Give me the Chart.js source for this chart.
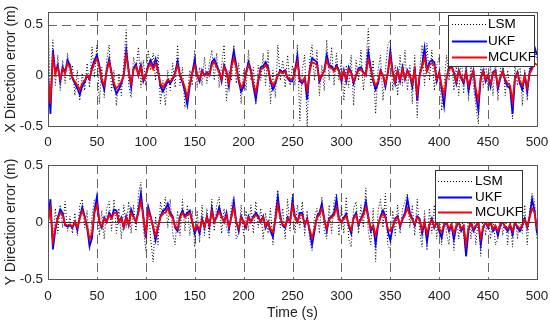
<!DOCTYPE html>
<html>
<head>
<meta charset="utf-8">
<script src="https://cdn.jsdelivr.net/npm/chart.js@4.4.1/dist/chart.umd.min.js"></script>
<style>
  html, body { margin: 0; padding: 0; background: #fff; }
  #wrap { position: relative; width: 550px; height: 324px; }
  canvas { position: absolute; left: 0; }
  #top { top: 0; }
  #bottom { top: 150px; }
</style>
</head>
<body>
<div id="wrap">
  <canvas id="top" width="550" height="150"></canvas>
  <canvas id="bottom" width="550" height="174"></canvas>
</div>
<script>
// sample spacing of the series below (s)
const timeStep = 2.5;

// X direction error (m)
const xLsm = [
  0.62, -0.3, 0.35, -0.1, 0.2, -0.15, 0.15, -0.08, 0.22, -0.05, 0.1, -0.2, 0.05, -0.25, 0.02, -0.15, 0.12, -0.12, 0.28, -0.02,
  0.3, -0.28, 0.08, -0.22, 0.15, 0.3, -0.15, 0.05, -0.3, 0.02, -0.2, 0.12, 0.45, -0.1, -0.22, 0.18, 0.05, 0.28, -0.12, 0.15,
  -0.1, 0.25, 0.05, 0.22, -0.05, 0.2, -0.28, -0.05, -0.3, 0.05, -0.15, 0.12, -0.12, 0.3, -0.1, 0.08, -0.32, -0.2, 0.05, -0.1,
  0.25, -0.12, 0.08, -0.1, 0.18, -0.08, 0.12, 0.25, -0.05, 0.22, -0.12, 0.1, 0.3, -0.25, 0.05, -0.05, 0.3, -0.08, 0.12, -0.28,
  0.05, -0.15, 0.25, -0.05, 0.08, -0.28, 0.1, -0.05, 0.22, -0.1, 0.25, -0.28, 0.05, -0.22, 0.3, -0.05, 0.15, -0.12, 0.2, -0.1,
  0.1, -0.1, 0.3, -0.45, 0.05, 0.2, -0.5, 0.15, 0.3, -0.05, 0.25, -0.2, 0.1, -0.15, 0.35, -0.05, 0.28, -0.1, 0.22, -0.05,
  0.15, -0.25, 0.1, -0.12, 0.2, -0.3, 0.15, -0.05, 0.25, -0.15, 0.1, 0.46, -0.1, 0.15, -0.38, 0.05, 0.2, -0.25, 0.05, 0.3,
  0.35, -0.15, 0.1, -0.2, 0.2, -0.1, 0.25, -0.15, 0.1, -0.28, 0.2, -0.42, 0.05, 0.3, -0.1, 0.32, -0.05, 0.25, -0.15, 0.1,
  0.18, -0.35, -0.1, 0.2, -0.05, 0.25, -0.15, 0.1, -0.2, 0.2, -0.18, 0.15, -0.25, 0.1, -0.1, -0.3, -0.48, 0.1, -0.12, 0.15,
  -0.15, 0.1, -0.2, 0.15, -0.25, 0.05, 0.2, -0.2, 0.05, -0.15, -0.43, 0.1, -0.1, 0.15, -0.3, 0.05, -0.25, 0.1, 0.2, 0.25, 0.15
];
const xUkf = [
  0.0, -0.38, 0.25, 0.03, 0.1, -0.06, 0.08, 0.03, 0.15, 0.1, -0.03, -0.08, -0.13, -0.19, -0.11, -0.07, 0.0, -0.04, 0.08, 0.15,
  0.2, 0.1, -0.06, -0.14, 0.05, 0.16, 0.03, -0.11, -0.18, -0.14, -0.08, 0.0, 0.25, 0.05, -0.12, 0.07, 0.11, 0.0, 0.1, -0.06,
  0.0, 0.1, 0.15, 0.08, 0.16, 0.05, -0.11, -0.16, -0.11, -0.06, -0.08, -0.04, 0.03, 0.14, 0.0, -0.07, -0.16, -0.29, -0.1, 0.03,
  0.15, 0.0, -0.06, 0.05, 0.0, 0.03, 0.0, 0.13, 0.16, 0.1, 0.04, -0.06, 0.1, 0.04, -0.11, 0.1, 0.24, 0.1, -0.06, -0.16,
  -0.11, 0.03, 0.13, 0.05, -0.11, -0.24, -0.06, 0.08, 0.09, 0.13, 0.08, -0.06, -0.14, -0.08, 0.0, 0.05, 0.03, 0.05, -0.03, -0.06,
  -0.06, 0.05, 0.19, -0.06, -0.08, -0.03, -0.24, 0.05, 0.17, 0.15, 0.13, -0.06, 0.0, 0.05, 0.2, 0.1, 0.09, 0.05, 0.1, 0.05,
  -0.06, 0.05, -0.06, 0.08, 0.03, -0.08, 0.0, 0.07, 0.08, 0.03, 0.0, 0.23, 0.08, -0.06, -0.14, -0.08, 0.05, 0.0, -0.11, 0.03,
  0.24, 0.03, -0.08, 0.05, -0.06, 0.08, -0.04, 0.05, 0.0, -0.11, 0.08, -0.25, 0.0, 0.1, 0.27, 0.05, 0.13, 0.15, 0.13, -0.06,
  0.03, -0.13, -0.3, -0.03, 0.08, 0.1, 0.03, -0.08, 0.05, -0.03, -0.08, 0.04, -0.15, -0.03, 0.05, -0.19, -0.34, -0.03, 0.05, -0.06,
  0.0, -0.11, 0.03, 0.05, -0.13, -0.03, 0.05, -0.06, -0.11, -0.13, -0.38, -0.03, 0.03, -0.08, -0.14, 0.0, -0.16, 0.03, 0.1, 0.28, 0.2
];
const xMcukf = [
  0.0, -0.28, 0.18, 0.02, 0.08, -0.04, 0.06, 0.02, 0.12, 0.08, -0.02, -0.06, -0.1, -0.14, -0.08, -0.05, 0.0, -0.03, 0.06, 0.12,
  0.16, 0.08, -0.04, -0.1, 0.04, 0.13, 0.02, -0.08, -0.13, -0.1, -0.06, 0.0, 0.2, 0.04, -0.08, 0.06, 0.09, 0.0, 0.08, -0.04,
  0.0, 0.08, 0.12, 0.06, 0.12, 0.04, -0.08, -0.12, -0.08, -0.04, -0.06, -0.03, 0.02, 0.1, 0.0, -0.05, -0.12, -0.22, -0.08, 0.02,
  0.1, 0.0, -0.04, 0.04, 0.0, 0.02, 0.0, 0.1, 0.13, 0.08, 0.03, -0.04, 0.08, 0.03, -0.08, 0.08, 0.17, 0.08, -0.04, -0.12,
  -0.08, 0.02, 0.1, 0.04, -0.08, -0.17, -0.04, 0.06, 0.07, 0.1, 0.06, -0.04, -0.1, -0.06, 0.0, 0.04, 0.02, 0.04, -0.02, -0.04,
  -0.04, 0.04, 0.13, -0.04, -0.06, -0.02, -0.15, 0.04, 0.13, 0.12, 0.1, -0.04, 0.0, 0.04, 0.15, 0.08, 0.07, 0.04, 0.08, 0.04,
  -0.04, 0.04, -0.04, 0.06, 0.02, -0.06, 0.0, 0.05, 0.06, 0.02, 0.0, 0.16, 0.06, -0.04, -0.1, -0.06, 0.04, 0.0, -0.08, 0.02,
  0.18, 0.02, -0.06, 0.04, -0.04, 0.06, -0.03, 0.04, 0.0, -0.08, 0.06, -0.18, 0.0, 0.08, 0.18, 0.04, 0.1, 0.12, 0.1, -0.04,
  0.02, -0.1, -0.2, -0.02, 0.06, 0.08, 0.02, -0.06, 0.04, -0.02, -0.06, 0.03, -0.1, -0.02, 0.04, -0.14, -0.25, -0.02, 0.04, -0.04,
  0.0, -0.08, 0.02, 0.04, -0.1, -0.02, 0.04, -0.04, -0.08, -0.1, -0.26, -0.02, 0.02, -0.06, -0.1, 0.0, -0.12, 0.02, 0.06, 0.12, 0.1
];

// Y direction error (m)
const yLsm = [
  0.1, 0.18, -0.2, 0.12, -0.1, 0.15, -0.05, 0.18, -0.08, 0.05, -0.1, 0.08, -0.12, 0.15, 0.2, -0.05, 0.1, -0.25, 0.05, 0.2,
  0.2, -0.12, 0.1, -0.15, 0.12, 0.18, -0.08, 0.2, -0.1, 0.12, -0.15, 0.15, -0.05, 0.18, -0.1, 0.15, -0.08, 0.25, 0.35, -0.05,
  -0.25, 0.15, -0.15, -0.35, 0.05, -0.2, 0.18, 0.05, 0.22, -0.05, 0.2, -0.1, -0.2, 0.1, -0.12, 0.2, -0.08, 0.15, -0.12, 0.1,
  -0.22, 0.1, -0.18, 0.15, -0.12, 0.12, -0.15, 0.2, -0.08, 0.15, 0.22, -0.1, 0.12, -0.05, -0.12, 0.15, 0.22, -0.15, -0.1, 0.15,
  -0.12, 0.1, -0.08, 0.15, -0.1, 0.18, -0.05, 0.12, -0.15, 0.08, -0.1, 0.12, -0.2, 0.1, 0.28, -0.05, 0.12, -0.15, 0.2, -0.08,
  0.25, -0.1, 0.15, -0.05, 0.18, -0.12, 0.1, -0.15, -0.25, 0.05, 0.12, -0.1, 0.22, -0.08, -0.15, 0.15, -0.1, 0.18, 0.25, -0.12,
  0.15, -0.1, 0.22, -0.15, -0.22, 0.12, 0.18, -0.1, 0.15, -0.05, 0.3, -0.08, -0.2, 0.12, -0.35, 0.1, 0.2, -0.05, 0.25, -0.2,
  -0.25, 0.1, -0.12, 0.15, -0.1, 0.12, 0.18, 0.25, -0.05, 0.15, -0.12, 0.2, -0.08, -0.22, 0.1, -0.25, 0.12, -0.1, 0.15, -0.15,
  0.1, -0.2, 0.12, -0.1, -0.2, 0.1, -0.25, 0.05, -0.15, 0.1, -0.12, -0.3, 0.08, -0.15, 0.1, -0.2, 0.05, -0.3, 0.1, -0.12,
  0.1, -0.15, 0.05, -0.2, -0.15, 0.08, -0.12, 0.1, -0.2, 0.05, -0.22, 0.1, -0.15, 0.05, -0.1, 0.15, -0.2, 0.1, 0.25, 0.18, -0.15
];
const yUkf = [
  0.0, 0.2, -0.24, -0.07, 0.04, 0.11, 0.08, -0.03, -0.04, -0.03, -0.05, 0.0, -0.07, 0.04, 0.13, 0.05, -0.05, -0.21, -0.14, 0.1,
  0.22, 0.0, -0.05, 0.04, 0.0, 0.08, 0.04, 0.11, 0.1, 0.0, 0.04, -0.05, 0.05, -0.03, 0.11, 0.05, 0.0, 0.1, 0.25, 0.05,
  -0.14, 0.13, 0.05, -0.05, -0.16, -0.05, 0.05, 0.1, 0.11, 0.16, 0.08, 0.05, -0.05, -0.08, 0.05, 0.1, 0.05, 0.08, 0.1, 0.0,
  -0.1, -0.04, -0.1, 0.03, -0.05, 0.05, -0.04, 0.12, 0.0, 0.05, 0.13, 0.05, 0.0, 0.08, -0.06, 0.05, 0.18, 0.0, -0.08, 0.05,
  0.0, -0.05, 0.05, 0.0, 0.05, 0.08, 0.05, 0.0, 0.05, -0.05, 0.0, -0.08, -0.13, 0.03, 0.22, 0.05, -0.03, -0.05, 0.04, 0.0,
  0.19, 0.05, 0.0, 0.08, 0.08, -0.03, 0.03, -0.08, -0.2, -0.08, 0.05, 0.08, 0.16, 0.03, -0.08, 0.03, 0.05, 0.08, 0.2, 0.03,
  0.0, 0.04, 0.07, -0.03, -0.1, 0.04, 0.08, -0.03, 0.03, 0.08, 0.18, 0.05, -0.08, -0.04, -0.19, -0.03, 0.05, 0.1, 0.05, -0.08,
  -0.16, -0.05, 0.03, 0.05, -0.04, 0.03, 0.08, 0.2, 0.08, 0.03, -0.03, 0.05, 0.03, -0.1, 0.0, -0.17, -0.03, 0.03, -0.05, 0.0,
  -0.08, -0.14, -0.03, 0.0, -0.08, -0.03, -0.15, -0.04, 0.0, -0.08, -0.04, -0.3, -0.07, 0.0, -0.08, -0.04, 0.0, -0.2, -0.05, 0.0,
  -0.05, 0.0, -0.08, -0.04, -0.12, -0.03, 0.0, -0.05, -0.08, -0.03, -0.11, 0.0, -0.05, -0.08, -0.03, 0.03, -0.05, 0.05, 0.2, 0.1, -0.1
];
const yMcukf = [
  0.0, 0.12, -0.17, -0.05, 0.03, 0.08, 0.06, -0.02, -0.03, -0.02, -0.04, 0.0, -0.05, 0.03, 0.1, 0.04, -0.04, -0.15, -0.1, 0.08,
  0.15, 0.0, -0.04, 0.03, 0.0, 0.06, 0.03, 0.08, 0.08, 0.0, 0.03, -0.04, 0.04, -0.02, 0.08, 0.04, 0.0, 0.08, 0.18, 0.04,
  -0.1, 0.1, 0.04, -0.04, -0.12, -0.04, 0.04, 0.08, 0.08, 0.12, 0.06, 0.04, -0.04, -0.06, 0.04, 0.08, 0.04, 0.06, 0.08, 0.0,
  -0.07, -0.03, -0.07, 0.02, -0.04, 0.04, -0.03, 0.09, 0.0, 0.04, 0.09, 0.04, 0.0, 0.06, -0.04, 0.04, 0.13, 0.0, -0.06, 0.04,
  0.0, -0.04, 0.04, 0.0, 0.04, 0.06, 0.04, 0.0, 0.04, -0.04, 0.0, -0.06, -0.09, 0.02, 0.15, 0.04, -0.02, -0.04, 0.03, 0.0,
  0.14, 0.04, 0.0, 0.06, 0.06, -0.02, 0.02, -0.06, -0.14, -0.06, 0.04, 0.06, 0.12, 0.02, -0.06, 0.02, 0.04, 0.06, 0.13, 0.02,
  0.0, 0.03, 0.05, -0.02, -0.07, 0.03, 0.06, -0.02, 0.02, 0.06, 0.13, 0.04, -0.06, -0.03, -0.12, -0.02, 0.04, 0.07, 0.04, -0.06,
  -0.08, -0.04, 0.02, 0.04, -0.03, 0.02, 0.06, 0.12, 0.06, 0.02, -0.02, 0.04, 0.02, -0.07, 0.0, -0.1, -0.02, 0.02, -0.04, 0.0,
  -0.06, -0.09, -0.02, 0.0, -0.06, -0.02, -0.1, -0.03, 0.0, -0.06, -0.03, -0.2, -0.05, 0.0, -0.06, -0.03, 0.0, -0.14, -0.04, 0.0,
  -0.04, 0.0, -0.06, -0.03, -0.08, -0.02, 0.0, -0.04, -0.06, -0.02, -0.08, 0.0, -0.04, -0.06, -0.02, 0.02, -0.04, 0.04, 0.12, 0.08, -0.06
];

const timeTicks = [0, 50, 100, 150, 200, 250, 300, 350, 400, 450, 500];
const errTicks = [-0.5, 0, 0.5];
const seriesNames = ["LSM", "UKF", "MCUKF"];

[xLsm, xUkf, xMcukf, yLsm, yUkf, yMcukf].forEach((arr, i) => {
  if (arr.length !== 201) throw new Error("series " + i + " has " + arr.length + " values");
});

const times = xMcukf.map((_, i) => i * timeStep);
const toPoints = (vals) => vals.map((v, i) => ({ x: times[i], y: v }));

Chart.defaults.font.family = "'Liberation Sans', Arial, sans-serif";
Chart.defaults.font.size = 13.5;
Chart.defaults.color = "#222";

// dashed guides + zero line under the data, box frame over it
const guideLines = {
  id: "guideLines",
  beforeDatasetsDraw(chart, args, opts) {
    const { ctx, chartArea: a, scales: { x, y } } = chart;
    ctx.save();
    ctx.lineWidth = 1;
    ctx.strokeStyle = "#666";
    ctx.setLineDash([9, 5]);
    timeTicks.slice(1, -1).forEach((t) => {
      const px = Math.round(x.getPixelForValue(t)) + 0.5;
      ctx.beginPath();
      ctx.moveTo(px, a.top);
      ctx.lineTo(px, a.bottom);
      ctx.stroke();
    });
    (opts.dashedY || []).forEach((v) => {
      const py = Math.round(y.getPixelForValue(v)) + 0.5;
      ctx.beginPath();
      ctx.moveTo(a.left, py);
      ctx.lineTo(a.right, py);
      ctx.stroke();
    });
    ctx.setLineDash([]);
    ctx.strokeStyle = "#444";
    const z = Math.round(y.getPixelForValue(0)) + 0.5;
    ctx.beginPath();
    ctx.moveTo(a.left, z);
    ctx.lineTo(a.right, z);
    ctx.stroke();
    ctx.restore();
  },
  afterDatasetsDraw(chart) {
    const { ctx, chartArea: a } = chart;
    ctx.save();
    ctx.strokeStyle = "#555";
    ctx.lineWidth = 1;
    ctx.strokeRect(Math.round(a.left) + 0.5, Math.round(a.top) + 0.5,
      Math.round(a.right - a.left), Math.round(a.bottom - a.top));
    ctx.restore();
  }
};

// MATLAB-style boxed legend inside the axes
const boxLegend = {
  id: "boxLegend",
  afterDraw(chart, args, o) {
    const { ctx } = chart;
    ctx.save();
    ctx.fillStyle = "#fff";
    ctx.fillRect(o.x, o.y, o.w, o.h);
    ctx.strokeStyle = "#333";
    ctx.lineWidth = 1;
    ctx.strokeRect(o.x + 0.5, o.y + 0.5, o.w, o.h);
    ctx.font = "13.5px 'Liberation Sans', Arial, sans-serif";
    ctx.textBaseline = "middle";
    chart.data.datasets.forEach((ds, i) => {
      const ly = Math.round(o.y + o.row0 + i * o.rowGap) + 0.5;
      ctx.setLineDash(ds.borderDash || []);
      ctx.strokeStyle = ds.borderColor;
      ctx.lineWidth = ds.legendWidth;
      ctx.beginPath();
      ctx.moveTo(o.x + o.lineX0, ly);
      ctx.lineTo(o.x + o.lineX1, ly);
      ctx.stroke();
      ctx.setLineDash([]);
      ctx.fillStyle = "#000";
      ctx.fillText(ds.label, o.x + o.textX, ly);
    });
    ctx.restore();
  }
};

function makeChart(id, lsm, ukf, mcukf, yMax, yTitle, cfg) {
  return new Chart(document.getElementById(id), {
    type: "line",
    data: {
      datasets: [
        { label: seriesNames[0], data: toPoints(lsm), borderColor: "#000", borderWidth: 1,
          borderDash: [1, 2], legendWidth: 1, order: 2 },
        { label: seriesNames[1], data: toPoints(ukf), borderColor: "#0000ff", borderWidth: 1.8,
          legendWidth: 2, order: 1 },
        { label: seriesNames[2], data: toPoints(mcukf), borderColor: "#ff0000", borderWidth: 1.7,
          legendWidth: 2, order: 0 }
      ]
    },
    options: {
      responsive: false,
      animation: false,
      events: [],
      devicePixelRatio: 1,
      elements: { point: { radius: 0 }, line: { tension: 0 } },
      layout: { padding: { left: 0, top: cfg.padTop, right: 13, bottom: 0 } },
      scales: {
        x: {
          type: "linear",
          min: 0,
          max: 500,
          grid: { display: false, drawTicks: false },
          border: { display: false },
          afterBuildTicks: (s) => { s.ticks = timeTicks.map((v) => ({ value: v })); },
          afterFit: (s) => {
            s.height = cfg.xHeight;
            s.paddingLeft = 0;
            s.paddingRight = 0;
          },
          ticks: { autoSkip: false, maxRotation: 0, padding: cfg.xPad, color: "#222" },
          title: {
            display: cfg.xTitle,
            text: "Time (s)",
            font: { size: 14 },
            color: "#222",
            padding: { top: 0, bottom: 2 }
          }
        },
        y: {
          min: -0.5,
          max: yMax,
          grid: { display: false, drawTicks: false },
          border: { display: false },
          afterBuildTicks: (s) => { s.ticks = errTicks.map((v) => ({ value: v })); },
          afterFit: (s) => {
            s.width = 48;
            s.paddingTop = 0;
            s.paddingBottom = 0;
          },
          ticks: { padding: 5, color: "#222", callback: (v) => String(v) },
          title: {
            display: true,
            text: yTitle,
            font: { size: 14 },
            color: "#222",
            padding: { top: 3, bottom: 0 }
          }
        }
      },
      plugins: {
        legend: { display: false },
        tooltip: { enabled: false },
        guideLines: { dashedY: cfg.dashedY },
        boxLegend: cfg.legend
      }
    },
    plugins: [guideLines, boxLegend]
  });
}

makeChart("top", xLsm, xUkf, xMcukf, 0.625, "X Direction error (m)", {
  padTop: 12, xHeight: 24, xPad: 8, xTitle: false, dashedY: [0.5, -0.5],
  legend: { x: 448, y: 15, w: 86, h: 51, row0: 9, rowGap: 16.5, lineX0: 4, lineX1: 39, textX: 40 }
});

makeChart("bottom", yLsm, yUkf, yMcukf, 0.5, "Y Direction error (m)", {
  padTop: 15, xHeight: 45, xPad: 9, xTitle: true, dashedY: [],
  legend: { x: 435, y: 20, w: 87, h: 52, row0: 11, rowGap: 15.7, lineX0: 3, lineX1: 37, textX: 40 }
});
</script>
</body>
</html>
